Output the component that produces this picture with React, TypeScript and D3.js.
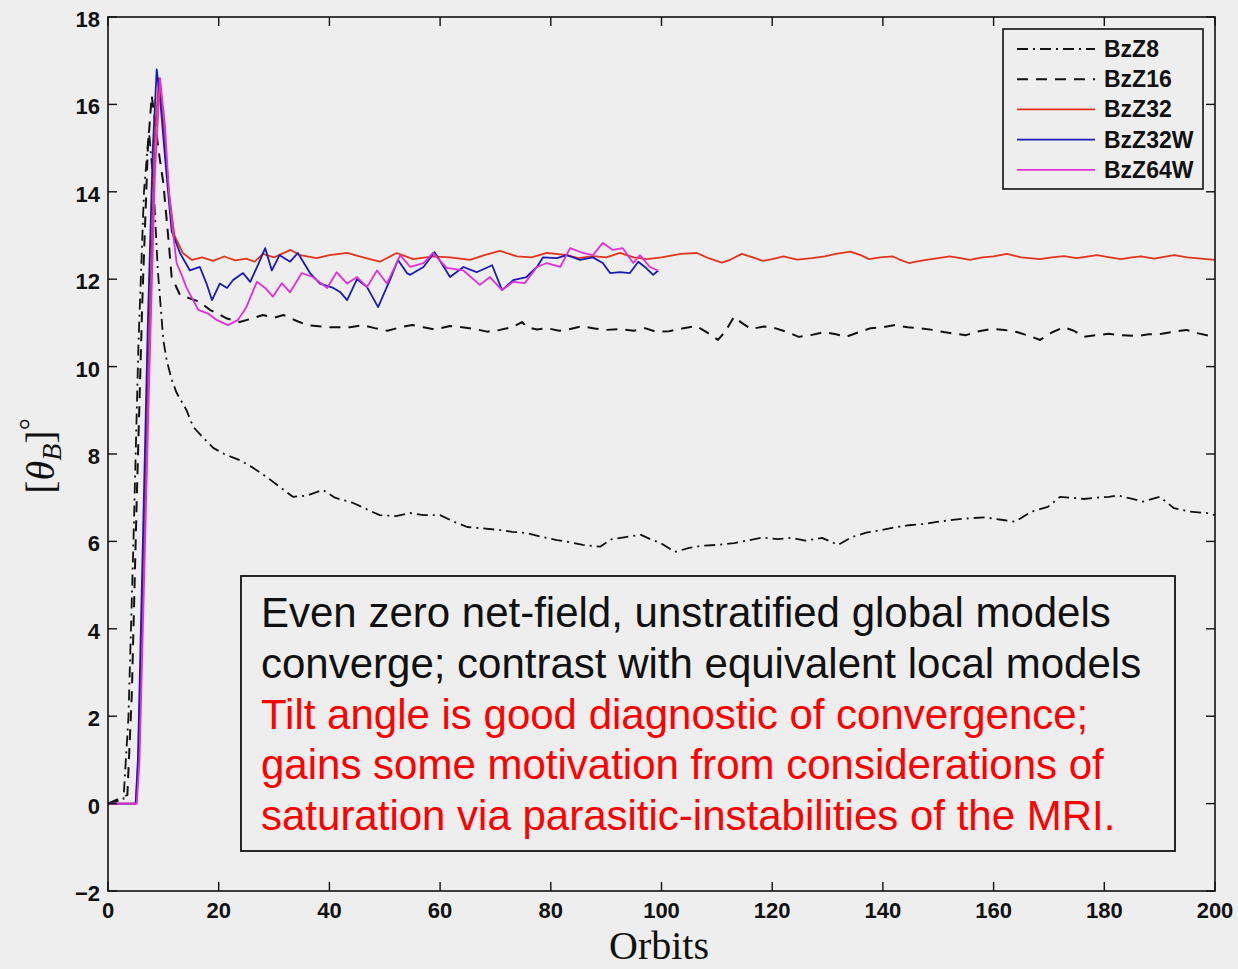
import React from "react";
import * as d3 from "d3";

const seriesNames = ["BzZ8", "BzZ16", "BzZ32", "BzZ32W", "BzZ64W"];

const bzz8: [number, number][] = [[0,0],[2.8,0.1],[3.7,2],[4.6,6],[5.5,10.5],[6.5,14],[7.4,15.4],[8.2,14.2],[9,12.2],[10,10.6],[10.6,10.15],[11.5,9.7],[12.4,9.4],[14.2,9.0],[15.4,8.62],[17,8.4],[19,8.14],[21,8.0],[23.8,7.86],[26,7.7],[28.7,7.47],[31,7.25],[33.4,7.02],[36,7.05],[38.8,7.18],[41,7.0],[44.3,6.88],[47,6.72],[49.1,6.6],[52,6.58],[54.6,6.65],[57,6.6],[60,6.6],[62.5,6.45],[64.9,6.33],[67.5,6.3],[70.8,6.26],[73,6.22],[75.7,6.19],[78.5,6.1],[81.1,6.03],[83.5,5.98],[85.8,5.92],[88.9,5.88],[91,6.05],[93.5,6.1],[96.3,6.15],[98,6.05],[99.9,5.96],[102.4,5.76],[105,5.85],[107.3,5.9],[110,5.92],[113.1,5.96],[115.5,6.02],[118.3,6.09],[121,6.05],[123.4,6.08],[126,6.02],[129,6.08],[131.9,5.92],[134.4,6.1],[137,6.2],[139.7,6.26],[142,6.32],[144.7,6.37],[147.5,6.4],[150,6.45],[153,6.5],[155.7,6.53],[158.5,6.55],[161.7,6.49],[163.9,6.45],[166.8,6.68],[169.8,6.79],[172,7.02],[174,7.0],[176.3,6.97],[178.5,7.0],[180.8,7.02],[182.5,7.05],[184.5,6.99],[187,6.91],[190,7.02],[192.6,6.76],[195.5,6.68],[198.4,6.65],[200,6.6]];

const bzz16: [number, number][] = [[0,0],[3.5,0.2],[4.3,2.5],[5.2,7],[6.2,11.5],[7.2,15],[7.9,16.2],[8.6,15.5],[9.3,14.8],[10,14.2],[11,12.8],[11.5,12.05],[13,11.64],[15,11.55],[16.6,11.48],[18.4,11.3],[20,11.2],[21.5,11.1],[23.8,11.02],[26,11.1],[28,11.18],[30,11.12],[31.7,11.18],[34,11.05],[36,10.95],[40,10.9],[43.7,10.9],[46,10.95],[48.2,10.88],[50.5,10.82],[52.8,10.9],[55,10.95],[57,10.9],[59,10.85],[61.8,10.93],[64,10.9],[66.3,10.86],[68.5,10.8],[70.8,10.84],[73,10.9],[74.8,11.02],[75.7,10.9],[77.5,10.85],[79.3,10.88],[81.5,10.82],[83.5,10.86],[85.5,10.92],[87.6,10.88],[90,10.84],[92.5,10.86],[95,10.82],[97,10.88],[99,10.8],[101.4,10.81],[104,10.88],[106.2,10.93],[108,10.8],[110.2,10.61],[111.5,10.8],[113.1,11.14],[114.5,11.0],[116.2,10.86],[118.5,10.92],[120.5,10.88],[122.5,10.8],[124.8,10.68],[127,10.72],[129.4,10.79],[131.5,10.74],[133.3,10.68],[135.5,10.78],[137.8,10.88],[140,10.9],[142.2,10.95],[144.5,10.9],[146.5,10.88],[149,10.84],[151,10.79],[153,10.75],[155,10.72],[157,10.8],[159.5,10.86],[162,10.84],[164.2,10.79],[166.5,10.7],[168.4,10.61],[170.5,10.78],[172.7,10.9],[174.5,10.82],[176.3,10.68],[178.5,10.72],[180.8,10.75],[183,10.72],[185.9,10.7],[188,10.74],[190.4,10.75],[192.5,10.8],[194.8,10.84],[197,10.76],[199.1,10.7],[200,10.72]];

const bzz32: [number, number][] = [[0,0],[5,0],[5.5,1],[6.5,6],[7.5,11],[8.5,15.3],[9.2,16.6],[10,15.6],[11,14],[12,13],[13.5,12.6],[15.2,12.44],[17,12.5],[19,12.42],[21,12.52],[23,12.43],[25,12.47],[26.5,12.4],[28,12.58],[30,12.5],[33,12.67],[34.7,12.55],[37.7,12.48],[40,12.55],[43.2,12.6],[46.1,12.5],[49.1,12.4],[52.2,12.6],[55.1,12.46],[58.7,12.52],[61.8,12.5],[65.4,12.44],[68,12.55],[70.8,12.65],[73.9,12.52],[76.5,12.5],[79.3,12.6],[82.9,12.55],[85,12.48],[87.6,12.53],[90,12.5],[92.5,12.6],[95,12.5],[97.4,12.46],[100,12.5],[103.5,12.58],[106.4,12.6],[108.5,12.48],[110.9,12.38],[112.5,12.45],[114.5,12.58],[116.5,12.5],[118.3,12.42],[120,12.46],[122,12.52],[124.5,12.45],[127.2,12.48],[129.5,12.52],[131.5,12.58],[134.1,12.63],[136,12.55],[137.5,12.46],[139.5,12.5],[141.8,12.52],[143,12.45],[144.7,12.37],[146,12.4],[147.8,12.44],[150,12.48],[152.1,12.52],[154,12.48],[155.7,12.44],[158,12.5],[160,12.52],[162.4,12.58],[165,12.5],[168.4,12.46],[170.5,12.5],[172.7,12.53],[175,12.48],[178.7,12.55],[181,12.5],[183,12.46],[185,12.5],[186.6,12.52],[189,12.47],[192.6,12.55],[195,12.5],[197.5,12.47],[200,12.44]];

const bzz32w: [number, number][] = [[0,0],[5,0],[5.4,1],[6.3,6],[7.2,11],[8.1,15],[8.8,16.8],[9.5,16],[10.5,14.5],[11.5,13.1],[13,12.6],[14.8,12.2],[16.6,12.28],[17.8,11.9],[18.8,11.52],[20.2,11.9],[21.5,11.8],[22.6,11.98],[24.4,12.14],[25.7,11.94],[27,12.3],[28.4,12.71],[29.6,12.2],[31,12.55],[32.9,12.4],[34.3,12.6],[36.5,12.14],[38.3,11.9],[40.7,11.8],[42,11.7],[43.2,11.52],[45,12],[46.8,11.82],[48.8,11.36],[51,12],[52.4,12.44],[54,12.14],[54.6,12.1],[57,12.28],[59,12.62],[61.8,12.05],[64.2,12.28],[66.6,12.16],[69.4,12.32],[71.2,11.75],[73.2,11.98],[75.6,12.05],[77.5,12.28],[78.6,12.5],[81.1,12.48],[82.9,12.55],[85.3,12.44],[87.6,12.5],[89.4,12.37],[90.7,12.14],[92.5,12.16],[94.3,12.14],[95.8,12.4],[97,12.28],[98.5,12.1],[99.4,12.2]];

const bzz64w: [number, number][] = [[0,0],[5.2,0],[5.7,1],[6.6,5.5],[7.5,10],[8.5,14.5],[9.4,16.6],[10.3,15.5],[11,14],[11.8,13],[12.4,12.37],[13.3,12.1],[14.2,11.8],[16.3,11.3],[18,11.22],[19.6,11.07],[21.7,10.95],[23.5,11.07],[25,11.36],[26.9,11.94],[28.4,11.8],[29.8,11.6],[31.4,11.91],[32.9,11.7],[35,12.14],[37,12.05],[39.6,11.8],[41.3,12.16],[43.2,11.9],[45,12.05],[46.8,11.82],[48.6,12.2],[50.4,11.9],[52.8,12.55],[54.6,12.28],[57,12.37],[58.7,12.6],[61.2,12.26],[64.2,12.2],[67.2,11.87],[69,12.05],[71.2,11.75],[73.2,11.94],[75.3,11.91],[77.5,12.28],[79.3,12.37],[81.7,12.28],[83.5,12.71],[85.8,12.6],[87.6,12.55],[89.4,12.83],[91.2,12.67],[93,12.71],[94.9,12.37],[96.1,12.55],[97.9,12.28],[99.4,12.2]];

const xTicks = [0, 20, 40, 60, 80, 100, 120, 140, 160, 180, 200];
const yTicks = [-2, 0, 2, 4, 6, 8, 10, 12, 14, 16, 18];

const blackLines = [
  "Even zero net-field, unstratified global models",
  "converge; contrast with equivalent local models",
];
const redLines = [
  "Tilt angle is good diagnostic of convergence;",
  "gains some motivation from considerations of",
  "saturation via parasitic-instabilities of the MRI.",
];

const W = 1238;
const H = 969;
const L = 108, R = 1215, T = 17, B = 891;

const styles = [
  { color: "#111", dash: "11,5,2,5", width: 1.8 },
  { color: "#111", dash: "11,8", width: 2 },
  { color: "#e2341a", dash: null, width: 1.8 },
  { color: "#1a1ab4", dash: null, width: 1.8 },
  { color: "#e030d8", dash: null, width: 1.8 },
];

export default function App() {
  const x = d3.scaleLinear().domain([0, 200]).range([L, R]);
  const y = d3.scaleLinear().domain([-2, 18]).range([B, T]);
  const line = d3
    .line<[number, number]>()
    .x((d) => x(d[0]))
    .y((d) => y(d[1]));
  const data = [bzz8, bzz16, bzz32, bzz32w, bzz64w];
  const tickFont = "'Liberation Sans', Arial, sans-serif";

  return (
    <svg
      width={W}
      height={H}
      style={{ position: "fixed", left: 0, top: 0, background: "#eeeeee" }}
    >
      <rect x={0} y={0} width={W} height={H} fill="#eeeeee" />
      <defs>
        <clipPath id="plotclip">
          <rect x={L} y={T} width={R - L} height={B - T} />
        </clipPath>
      </defs>
      <g clipPath="url(#plotclip)">
        {data.map((d, i) => (
          <path
            key={seriesNames[i]}
            d={line(d) || ""}
            fill="none"
            stroke={styles[i].color}
            strokeWidth={styles[i].width}
            strokeDasharray={styles[i].dash || undefined}
            strokeLinejoin="round"
          />
        ))}
      </g>
      <rect x={L} y={T} width={R - L} height={B - T} fill="none" stroke="#111" strokeWidth={1.6} />
      {xTicks.map((t) => (
        <g key={"xt" + t}>
          <line x1={x(t)} x2={x(t)} y1={B} y2={B - 9} stroke="#111" strokeWidth={1.4} />
          <line x1={x(t)} x2={x(t)} y1={T} y2={T + 9} stroke="#111" strokeWidth={1.4} />
          <text
            x={x(t)}
            y={918}
            textAnchor="middle"
            fontFamily={tickFont}
            fontWeight="bold"
            fontSize={22}
            fill="#111"
          >
            {t}
          </text>
        </g>
      ))}
      {yTicks.map((t) => (
        <g key={"yt" + t}>
          <line x1={L} x2={L + 9} y1={y(t)} y2={y(t)} stroke="#111" strokeWidth={1.4} />
          <line x1={R} x2={R - 9} y1={y(t)} y2={y(t)} stroke="#111" strokeWidth={1.4} />
          <text
            x={100}
            y={y(t) + 10}
            textAnchor="end"
            fontFamily={tickFont}
            fontWeight="bold"
            fontSize={22}
            fill="#111"
          >
            {t < 0 ? "\u2212" + Math.abs(t) : t}
          </text>
        </g>
      ))}
      <text
        x={659}
        y={959}
        textAnchor="middle"
        fontFamily="'Liberation Serif', 'Times New Roman', serif"
        fontSize={40}
        fill="#111"
      >
        Orbits
      </text>
      <text
        transform="translate(54,456) rotate(-90)"
        textAnchor="middle"
        fontFamily="'Liberation Serif', 'Times New Roman', serif"
        fontSize={40}
        fill="#111"
      >
        [<tspan fontStyle="italic">θ</tspan>
        <tspan fontStyle="italic" fontSize={28} dy={7}>B</tspan>
        <tspan dy={-7}>]</tspan>
        <tspan fontSize={30} dy={-14}>°</tspan>
      </text>
      <rect x={1003} y={29} width={200} height={160} fill="#eeeeee" stroke="#111" strokeWidth={1.6} />
      {seriesNames.map((n, i) => {
        const ly = 49 + i * 30.2;
        return (
          <g key={"lg" + n}>
            <line
              x1={1017}
              x2={1095}
              y1={ly}
              y2={ly}
              stroke={styles[i].color}
              strokeWidth={styles[i].width}
              strokeDasharray={styles[i].dash || undefined}
            />
            <text
              x={1104}
              y={ly + 8}
              fontFamily={tickFont}
              fontWeight="bold"
              fontSize={23}
              fill="#111"
            >
              {n}
            </text>
          </g>
        );
      })}
      <rect x={241} y={576} width={934} height={275} fill="#eeeeee" stroke="#111" strokeWidth={1.8} />
      {blackLines.concat(redLines).map((s, i) => (
        <text
          key={"ann" + i}
          x={261}
          y={627 + i * 50.8}
          fontFamily="'Liberation Sans', Arial, sans-serif"
          fontSize={42}
          fill={i < blackLines.length ? "#111" : "#ff0000"}
        >
          {s}
        </text>
      ))}
    </svg>
  );
}
